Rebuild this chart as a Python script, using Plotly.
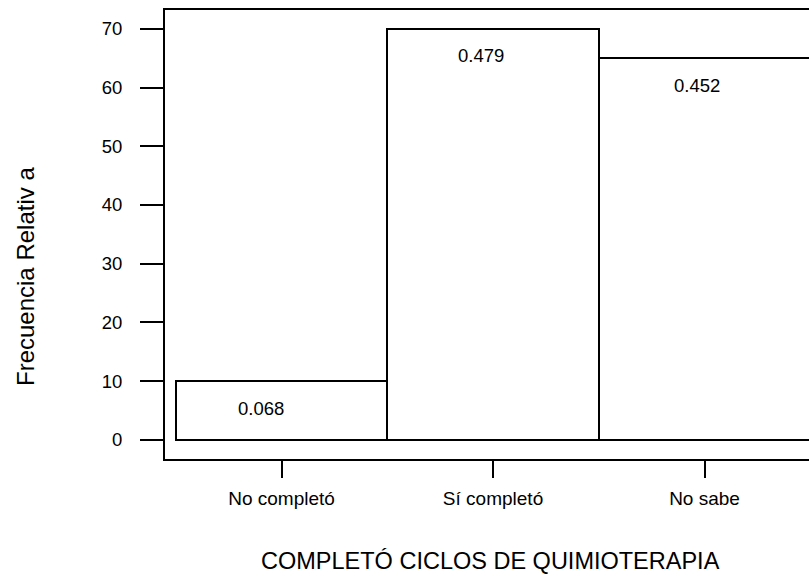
import plotly.graph_objects as go

categories = ["No completó", "Sí completó", "No sabe"]
frequencies = [10, 70, 65]
relative_freq = ["0.068", "0.479", "0.452"]
y_ticks = [0, 10, 20, 30, 40, 50, 60, 70]

W, H = 809, 577
ml, mr, mt, mb = 165, 0, 10, 118
FONT = "Liberation Sans, Arial, sans-serif"

fig = go.Figure()
fig.add_trace(go.Bar(
    x=list(range(len(categories))),
    y=frequencies,
    width=1.0,
    marker=dict(color="white", line=dict(color="black", width=2)),
    hoverinfo="skip",
))

label_xshift = [-21, -12, -8]
for i, (v, t) in enumerate(zip(frequencies, relative_freq)):
    fig.add_annotation(x=i, y=v, text=t, showarrow=False, xref="x", yref="y",
                       yshift=-27, xshift=label_xshift[i],
                       xanchor="center", yanchor="middle",
                       font=dict(family=FONT, size=18.5, color="black"))

plot_h = H - mt - mb
plot_w = W - ml - mr
fig.add_annotation(text="Frecuencia Relativ a", textangle=-90, showarrow=False,
                   xref="paper", yref="paper",
                   x=(25 - ml) / plot_w, y=(H - mb - 277) / plot_h,
                   xanchor="center", yanchor="middle",
                   font=dict(family=FONT, size=24, color="black"))
fig.add_annotation(text="COMPLETÓ CICLOS DE QUIMIOTERAPIA", showarrow=False,
                   xref="paper", yref="paper",
                   x=(490 - ml) / plot_w, y=(H - mb - 561) / plot_h,
                   xanchor="center", yanchor="middle",
                   font=dict(family=FONT, size=23.5, color="black"))

fig.update_layout(
    width=W, height=H,
    margin=dict(l=ml, r=mr, t=mt, b=mb, pad=0),
    paper_bgcolor="white", plot_bgcolor="white",
    showlegend=False, bargap=0,
    font=dict(family=FONT, color="black"),
)
fig.update_xaxes(
    range=[-0.551, 2.494],
    tickmode="array", tickvals=list(range(len(categories))), ticktext=categories,
    ticks="outside", ticklen=17, tickwidth=2, tickcolor="black",
    showline=True, linewidth=2, linecolor="black", mirror=True,
    showgrid=False, zeroline=False,
    tickfont=dict(family=FONT, size=19, color="black"),
    ticklabelstandoff=4,
)
fig.update_yaxes(
    range=[-3.287, 73.236],
    tickmode="array", tickvals=y_ticks,
    ticks="outside", ticklen=23, tickwidth=2, tickcolor="black",
    showline=True, linewidth=2, linecolor="black",
    showgrid=False, zeroline=False,
    tickfont=dict(family=FONT, size=18.5, color="black"),
    ticklabelstandoff=14,
)

fig.write_html("out.html")
